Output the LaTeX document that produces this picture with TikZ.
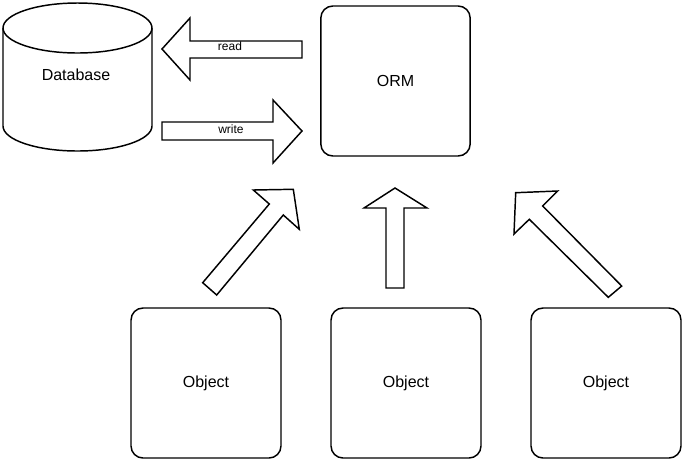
\documentclass[tikz,border=0pt]{standalone}
\usepackage{fontspec}
\setmainfont{Liberation Sans}
\usepackage{tikz}

\tikzset{
  box/.style={draw, line width=1.1pt, rounded corners=9pt, minimum width=112pt, minimum height=112.5pt, inner sep=0pt, font=\fontsize{12}{14}\selectfont},
  blockarrow/.style={draw, line width=1.1pt, fill=white},
  arrowlbl/.style={inner sep=0.75pt, font=\fontsize{9}{11}\selectfont}
}

\begin{document}
\begin{tikzpicture}[x=0.75pt,y=0.75pt,yscale=-1,xscale=1]
    \useasboundingbox (0,0) rectangle (683,462);

    %Shape: Can [id:database]
    \draw [line width=1.1pt] (3,28) -- (3,126) arc (180:0:74.5 and 25) -- (152,28);
    \draw [line width=1.1pt] (77.5,28) ellipse (74.5 and 25);
    \node [inner sep=0.75pt, font=\fontsize{12}{14}\selectfont] (db) at (76,75) {Database};

    %Shape: Rounded Rect [id:orm]
    \node [box] (orm) at (395.5,81) {ORM};
    %Shape: Rounded Rect [id:objects]
    \node [box, minimum width=112.5pt] (obj1) at (206,383) {Object};
    \node [box, minimum width=112.5pt] (obj2) at (406,383) {Object};
    \node [box, minimum width=112.5pt] (obj3) at (606,383) {Object};

    %Shape: Left Arrow [id:read]
    \draw [blockarrow] (302,41) -- (190,41) -- (190,18) -- (162,49) -- (190,80) -- (190,58) -- (302,58) -- cycle ;
    %Shape: Right Arrow [id:write]
    \draw [blockarrow] (162,122) -- (273,122) -- (273,100) -- (302,131) -- (273,163) -- (273,140) -- (162,140) -- cycle ;
    %Shape: Up Arrows [id:objects to orm]
    \draw [blockarrow] (202.7,282.7) -- (269.3,204) -- (253.3,190) -- (293.3,189.3) -- (299.3,229.3) -- (283.3,215) -- (216.7,295) -- cycle ;
    \draw [blockarrow] (386,288) -- (386,208) -- (364,208) -- (395,188) -- (427,208) -- (404,208) -- (404,288) -- cycle ;
    \draw [blockarrow] (621.7,286) -- (542.7,206) -- (557.7,191) -- (515.7,192.7) -- (514,234) -- (529.3,219.3) -- (608.3,297.3) -- cycle ;

    % Text Node
    \node [arrowlbl] (readlbl) at (230,46.5) {read};
    % Text Node
    \node [arrowlbl] (writelbl) at (231,129) {write};
\end{tikzpicture}
\end{document}
